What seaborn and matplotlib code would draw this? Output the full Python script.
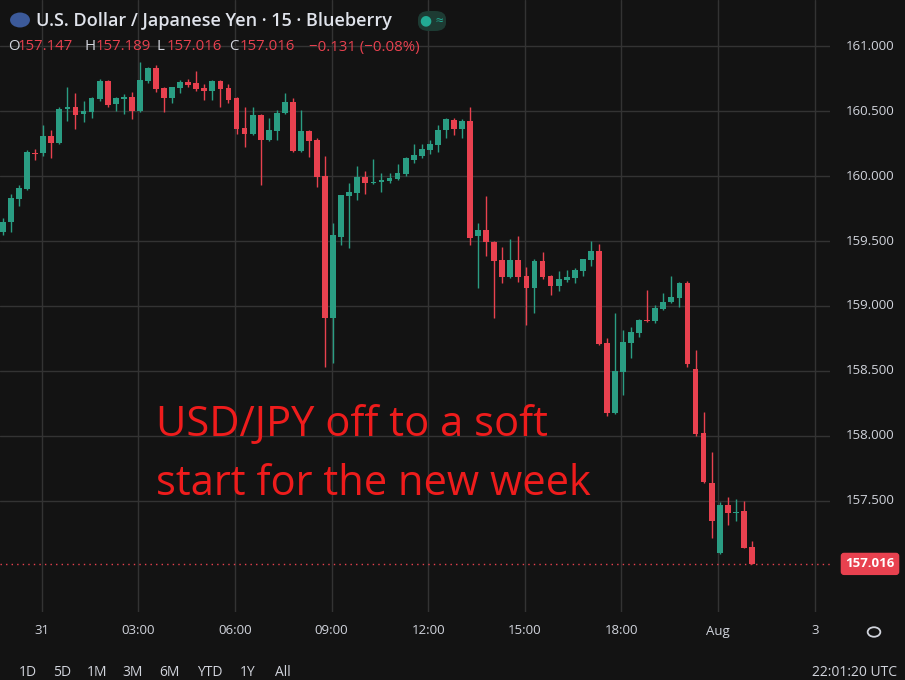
import matplotlib
matplotlib.use("Agg")
import matplotlib.pyplot as plt
import seaborn as sns
import numpy as np
from matplotlib.patches import Circle, FancyBboxPatch

opens = [159.569,159.646,159.823,159.900,160.177,160.177,160.308,160.254,160.515,160.531,
         160.477,160.492,160.592,160.731,160.554,160.592,160.608,160.500,160.731,160.831,
         160.677,160.600,160.677,160.723,160.715,160.677,160.654,160.731,160.677,160.600,
         160.369,160.323,160.469,160.277,160.346,160.485,160.569,160.192,160.346,160.277,
         160.000,158.908,159.531,159.846,159.869,159.992,159.946,159.954,159.962,159.977,
         160.015,160.123,160.154,160.200,160.238,160.354,160.431,160.362,160.423,159.538,
         159.585,159.492,159.354,159.223,159.354,159.231,159.138,159.346,159.231,159.154,
         159.200,159.215,159.269,159.354,159.423,158.715,158.177,158.492,158.715,158.792,
         158.892,158.885,158.977,159.031,159.062,159.177,158.515,158.023,157.638,157.100,
         157.469,157.408,157.423,157.147]
highs = [159.677,159.862,159.931,160.200,160.208,160.392,160.354,160.531,160.685,160.638,
         160.577,160.608,160.746,160.738,160.608,160.631,160.646,160.877,160.838,160.854,
         160.685,160.685,160.738,160.746,160.808,160.708,160.738,160.738,160.708,160.608,
         160.531,160.531,160.477,160.446,160.508,160.638,160.600,160.508,160.354,160.292,
         160.154,159.638,159.854,159.946,160.077,160.038,160.131,160.023,160.023,160.092,
         160.146,160.246,160.246,160.277,160.392,160.446,160.446,160.438,160.531,159.638,
         159.846,159.500,159.454,159.515,159.538,159.300,159.362,159.415,159.238,159.269,
         159.277,159.292,159.362,159.500,159.477,158.754,158.946,158.815,158.838,158.900,
         159.123,159.008,159.100,159.231,159.185,159.192,158.662,158.185,157.877,157.492,
         157.531,157.515,157.500,157.189]
lows = [159.546,159.569,159.769,159.892,160.123,160.154,160.138,160.246,160.423,160.362,
        160.415,160.446,160.577,160.531,160.500,160.477,160.438,160.492,160.715,160.646,
        160.492,160.562,160.638,160.685,160.654,160.585,160.585,160.531,160.562,160.323,
        160.223,160.315,159.931,160.269,160.277,160.477,160.185,160.185,160.146,159.915,
        158.531,158.562,159.469,159.446,159.815,159.862,159.938,159.877,159.946,159.969,
        160.000,160.100,160.138,160.169,160.185,160.292,160.315,160.292,159.469,159.138,
        159.385,158.908,159.177,159.215,159.185,158.854,158.946,159.208,159.085,159.115,
        159.185,159.177,159.231,159.308,158.700,158.154,158.169,158.315,158.600,158.762,
        158.877,158.869,158.969,159.023,158.992,158.531,158.000,157.638,157.215,157.092,
        157.315,157.346,157.138,157.016]
closes = [159.646,159.831,159.908,160.185,160.169,160.308,160.254,160.515,160.531,160.469,
          160.500,160.600,160.731,160.546,160.600,160.608,160.500,160.738,160.831,160.669,
          160.600,160.685,160.723,160.700,160.669,160.654,160.731,160.669,160.585,160.362,
          160.323,160.469,160.277,160.354,160.485,160.569,160.192,160.346,160.269,159.992,
          158.908,159.546,159.854,159.877,159.992,159.946,159.954,159.969,159.985,160.023,
          160.138,160.162,160.208,160.246,160.354,160.438,160.362,160.423,159.523,159.585,
          159.492,159.346,159.223,159.354,159.223,159.138,159.346,159.223,159.154,159.208,
          159.223,159.277,159.362,159.423,158.708,158.177,158.500,158.723,158.800,158.892,
          158.885,158.985,159.031,159.069,159.177,158.554,158.015,157.646,157.346,157.469,
          157.408,157.415,157.138,157.016]
time_labels = ["31", "03:00", "06:00", "09:00", "12:00", "15:00", "18:00", "Aug", "3"]
price_ticks = [157.5, 158.0, 158.5, 159.0, 159.5, 160.0, 160.5, 161.0]

BG = "#131313"
GREEN = "#2a9d83"
RED = "#e8414f"
GRID = "#333333"

sns.set_theme(style="dark")
plt.rcParams['font.family'] = ['Open Sans', 'DejaVu Sans']

fig = plt.figure(figsize=(9.05, 6.8), dpi=100, facecolor=BG)
ax = fig.add_axes([0, 68/680, 830/905, 612/680])
ax.set_facecolor(BG)

o = np.array(opens); h = np.array(highs); l = np.array(lows); c = np.array(closes)
idx = np.arange(len(o))
up = c >= o
cols = np.where(up, GREEN, RED)

ax.set_ylim(156.646, 161.354)
ax.set_xlim(-0.37, 102.7)

tick_pos = [4.8 + 12 * k for k in range(len(time_labels))]
for tp in tick_pos:
    ax.axvline(tp, color=GRID, lw=1, zorder=0)
for pt in price_ticks:
    ax.axhline(pt, color=GRID, lw=1, zorder=0)

ax.vlines(idx, l, h, colors=cols, lw=1, zorder=2)
body_bottom = np.minimum(o, c)
body_h = np.maximum(np.abs(c - o), 0.008)
ax.bar(idx, body_h, bottom=body_bottom, width=0.72, color=cols, zorder=3, linewidth=0)

ax.axhline(closes[-1], color=RED, lw=1, ls=(0, (1, 3)), zorder=1)

ax.set_xticks([]); ax.set_yticks([])
for s in ax.spines.values():
    s.set_visible(False)

for pt in price_ticks:
    yf = (pt - 156.646) / (161.354 - 156.646) * (612/680) + 68/680
    fig.text(870/905, yf, f"{pt:.3f}", color="#d1d4dc", fontsize=9.5, ha="center", va="center")
yl = (closes[-1] - 156.646) / (161.354 - 156.646) * (612/680) + 68/680
fig.text(870/905, yl, f"{closes[-1]:.3f}", color="white", fontsize=9.5, ha="center", va="center",
         fontweight="bold",
         bbox=dict(boxstyle="round,pad=0.3,rounding_size=0.2", fc=RED, ec=RED))

for tp, lab in zip(tick_pos, time_labels):
    xf = (tp + 0.37) / (102.7 + 0.37) * (830/905)
    fig.text(xf, 1 - 631/680, lab, color="#d1d4dc", fontsize=9.5, ha="center", va="center")

gear = Circle((874/905, 1 - 632/680), 0.007, transform=fig.transFigure, fill=False, ec="#d1d4dc", lw=1.3)
fig.add_artist(gear)

flag = Circle((20/905, 1 - 20/680), 0.011, transform=fig.transFigure, fc="#3c5a9a", ec="none")
fig.add_artist(flag)
fig.text(36/905, 1 - 21/680, "U.S. Dollar / Japanese Yen · 15 · Blueberry", color="#e0e3eb",
         fontsize=13, fontweight="semibold", ha="left", va="center")
badge = FancyBboxPatch((418/905, 1 - 31/680), 28/905, 20/680, boxstyle="round,pad=0,rounding_size=0.012",
                       transform=fig.transFigure, fc="#1d3b33", ec="none")
fig.add_artist(badge)
fig.text(432/905, 1 - 21/680, "● ≈", color="#22ab94", fontsize=10, ha="center", va="center")

parts = [("O", "#d1d4dc"), ("157.147", RED), ("H", "#d1d4dc"), ("157.189", RED),
         ("L", "#d1d4dc"), ("157.016", RED), ("C", "#d1d4dc"), ("157.016", RED),
         ("−0.131 (−0.08%)", RED)]
xpos = [8, 18, 84, 96, 157, 167, 229, 240, 309]
for (t, col), xp in zip(parts, xpos):
    fig.text(xp/905, 1 - 47/680, t, color=col, fontsize=10.8, ha="left", va="center")

fig.text(156/905, 1 - 425/680, "USD/JPY off to a soft", color="#ee1c1c", fontsize=30, ha="left", va="center")
fig.text(156/905, 1 - 484/680, "start for the new week", color="#ee1c1c", fontsize=30, ha="left", va="center")

bx = [28, 62, 97, 133, 169, 210, 248, 283]
for lab, xp in zip(["1D", "5D", "1M", "3M", "6M", "YTD", "1Y", "All"], bx):
    fig.text(xp/905, 1 - 672/680, lab, color="#d1d4dc", fontsize=10, ha="center", va="center")
fig.text(897/905, 1 - 672/680, "22:01:20 UTC", color="#d1d4dc", fontsize=10, ha="right", va="center")

fig.savefig("out.png", dpi=100, facecolor=BG)
